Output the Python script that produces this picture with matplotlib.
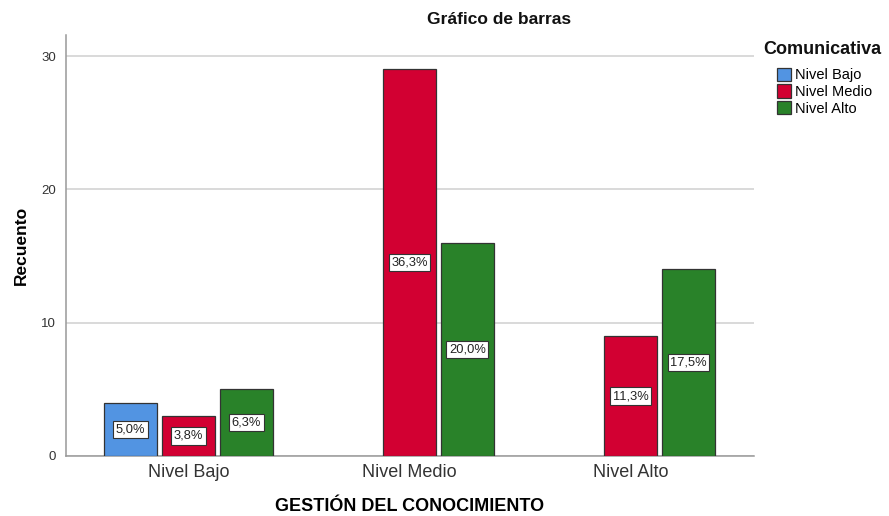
import matplotlib
matplotlib.use('Agg')
import matplotlib.pyplot as plt
import numpy as np
from matplotlib.patches import Patch

plt.rcParams['font.family'] = ['Liberation Sans', 'DejaVu Sans']

# data
groups = ['Nivel Bajo', 'Nivel Medio', 'Nivel Alto']
series = ['Nivel Bajo', 'Nivel Medio', 'Nivel Alto']
counts_bajo = [4, 0, 0]
counts_medio = [3, 29, 9]
counts_alto = [5, 16, 14]
pct_bajo = ['5,0%', '', '']
pct_medio = ['3,8%', '36,3%', '11,3%']
pct_alto = ['6,3%', '20,0%', '17,5%']
colors = ['#5294E2', '#D20032', '#298229']

fig = plt.figure(figsize=(8.89, 5.16), dpi=100)
ax = fig.add_axes([0.0742, 0.1163, 0.7738, 0.8157])

x = np.arange(len(groups))
width = 0.24
step = 0.262
all_counts = [counts_bajo, counts_medio, counts_alto]
all_pct = [pct_bajo, pct_medio, pct_alto]

for i, (vals, pcts) in enumerate(zip(all_counts, all_pct)):
    pos = x + (i - 1) * step
    for xp, v, p in zip(pos, vals, pcts):
        if v == 0:
            continue
        ax.bar(xp, v, width=width, color=colors[i], edgecolor='#333333',
               linewidth=0.9, zorder=3)
        ax.text(xp, v / 2, p, ha='center', va='center', fontsize=9.3,
                color='#222222', zorder=4,
                bbox=dict(boxstyle='square,pad=0.2', fc='white',
                          ec='#333333', lw=0.8))

ax.set_xlim(-0.554, 2.558)
ax.set_ylim(0, 31.58)
ax.set_yticks([0, 10, 20, 30])
ax.set_xticks(x)
ax.set_xticklabels(groups, fontsize=13, color='#333333')
ax.tick_params(axis='y', labelsize=9.5, colors='#333333', length=0, pad=7)
ax.tick_params(axis='x', length=0, pad=6)
ax.grid(axis='y', color='#d0d0d0', linewidth=1.1, zorder=0)

for s in ['top', 'right']:
    ax.spines[s].set_visible(False)
for s in ['left', 'bottom']:
    ax.spines[s].set_color('#999999')
    ax.spines[s].set_linewidth(1.1)

ax.set_ylabel('Recuento', fontsize=12.5, fontweight='bold', labelpad=9)
ax.set_xlabel('GESTIÓN DEL CONOCIMIENTO', fontsize=13, fontweight='bold',
              labelpad=12)
fig.text(499 / 889, 1 - 19 / 516, 'Gráfico de barras', ha='center',
         va='center', fontsize=12.5, fontweight='bold', color='#111111')

# legend: title drawn separately so items sit indented under it
fig.text(763 / 889, 1 - 49 / 516, 'Comunicativa', ha='left', va='center',
         fontsize=13, fontweight='bold', color='#111111')
handles = [Patch(facecolor=c, edgecolor='#333333', linewidth=0.9) for c in colors]
fig.legend(handles, series, loc='upper left',
           bbox_to_anchor=(768 / 889, 1 - 59 / 516),
           frameon=False, fontsize=10.5,
           handlelength=1.0, handleheight=1.0, handletextpad=0.25,
           labelspacing=0.15, borderpad=0.1)

fig.savefig('out.png', dpi=100)
